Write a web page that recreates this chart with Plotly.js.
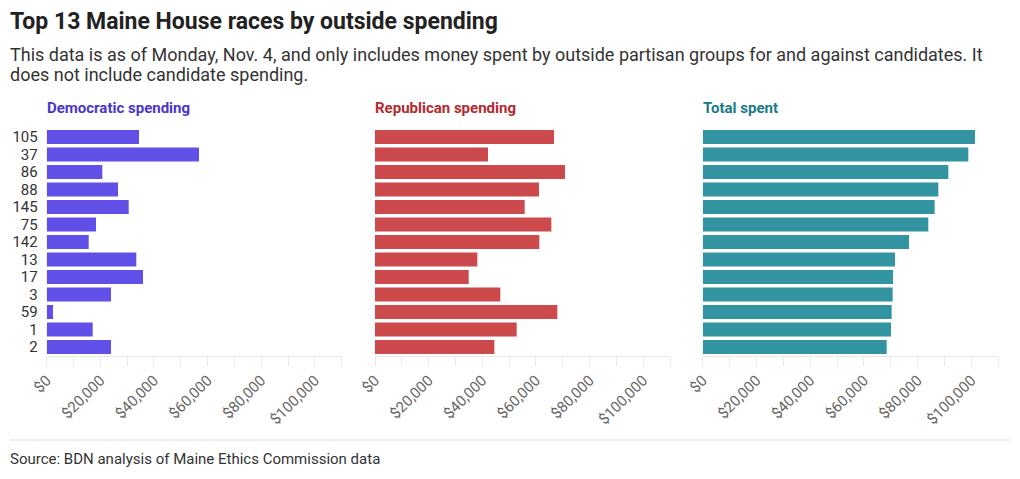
<!DOCTYPE html>
<html>
<head>
<meta charset="utf-8">
<script src="https://cdn.plot.ly/plotly-3.0.1.min.js"></script>
<style>
  html, body { margin: 0; padding: 0; background: #fff; }
  #chart { width: 1020px; height: 479px; }
</style>
</head>
<body>
<div id="chart"></div>
<script>
const districts = ["105", "37", "86", "88", "145", "75", "142", "13", "17", "3", "59", "1", "2"];
const democraticSpending = [34420, 56790, 20740, 26590, 30580, 18380, 15660, 33410, 35910, 23980, 2350, 17150, 23980];
const republicanSpending = [66750, 42140, 70850, 61150, 55810, 65750, 61280, 38160, 34930, 46730, 67990, 52830, 44500];
const totalSpent = [101320, 98840, 91400, 87680, 86310, 83960, 76760, 71560, 70810, 70690, 70320, 70070, 68460];
const panelTitles = ["Democratic spending", "Republican spending", "Total spent"];

const W = 1020, H = 479;
const font = "Roboto, 'Open Sans', sans-serif";
const barColors = ["#6150e8", "#cc4a4b", "#3194a0"];
const titleColors = ["#4b35cf", "#b8292f", "#1b7b85"];
const series = [democraticSpending, republicanSpending, totalSpent];
const xDomains = [[46.7 / W, 341.7 / W], [375 / W, 670 / W], [702.7 / W, 998.3 / W]];
const yDomain = [(H - 355.75) / H, (H - 128.25) / H];

const traces = series.map((vals, i) => ({
  type: "bar",
  orientation: "h",
  x: vals,
  y: districts,
  xaxis: i === 0 ? "x" : "x" + (i + 1),
  yaxis: i === 0 ? "y" : "y" + (i + 1),
  marker: { color: barColors[i], line: { width: 0 } },
  width: 0.8,
  hoverinfo: "x+y",
  showlegend: false
}));

function xAxis(i) {
  return {
    domain: xDomains[i],
    anchor: i === 0 ? "y" : "y" + (i + 1),
    range: [0, 110000],
    dtick: 20000,
    tick0: 0,
    tickprefix: "$",
    tickformat: ",d",
    tickangle: -45,
    ticks: "outside",
    ticklen: 9,
    tickwidth: 1,
    tickcolor: "#e8e8e8",
    minor: { dtick: 10000, tick0: 0, ticks: "outside", ticklen: 9, tickcolor: "#e8e8e8", tickwidth: 1 },
    showgrid: false,
    zeroline: false,
    showline: true,
    linecolor: "#e8e8e8",
    linewidth: 1,
    tickfont: { family: font, size: 15, color: "#666" },
    fixedrange: true
  };
}
function yAxis(i) {
  return {
    domain: yDomain,
    anchor: i === 0 ? "x" : "x" + (i + 1),
    type: "category",
    autorange: false,
    range: [12.5, -0.5],
    tickmode: "array",
    tickvals: districts,
    ticktext: districts,
    showticklabels: i === 0,
    ticks: "",
    ticklabelstandoff: 8,
    showgrid: false,
    zeroline: false,
    showline: false,
    tickfont: { family: font, size: 15, color: "#333" },
    fixedrange: true
  };
}

const annotations = [
  { text: "<b>Top 13 Maine House races by outside spending</b>", x: 8, y: 22, font: { family: font, size: 23, color: "#222" } },
  { text: "This data is as of Monday, Nov. 4, and only includes money spent by outside partisan groups for and against candidates. It", x: 8, y: 55, font: { family: font, size: 18, color: "#333" } },
  { text: "does not include candidate spending.", x: 8, y: 74, font: { family: font, size: 18, color: "#333" } },
  { text: "Source: BDN analysis of Maine Ethics Commission data", x: 8, y: 459, font: { family: font, size: 15, color: "#333" } }
];
panelTitles.forEach((t, i) => {
  annotations.push({ text: "<b>" + t + "</b>", x: xDomains[i][0] * W - 2, y: 108, font: { family: font, size: 15, color: titleColors[i] } });
});
annotations.forEach(a => {
  a.x = a.x / W; a.y = (H - a.y) / H;
  a.xref = "paper"; a.yref = "paper";
  a.xanchor = "left"; a.yanchor = "middle";
  a.showarrow = false; a.align = "left";
});

const layout = {
  width: W, height: H,
  margin: { l: 0, r: 0, t: 0, b: 0 },
  paper_bgcolor: "#fff",
  plot_bgcolor: "#fff",
  bargap: 0.2,
  xaxis: xAxis(0), xaxis2: xAxis(1), xaxis3: xAxis(2),
  yaxis: yAxis(0), yaxis2: yAxis(1), yaxis3: yAxis(2),
  annotations: annotations,
  shapes: [{ type: "line", xref: "paper", yref: "paper", x0: 10 / W, x1: 1010 / W, y0: (H - 440) / H, y1: (H - 440) / H, line: { color: "#dddddd", width: 1 } }]
};

Plotly.newPlot("chart", traces, layout, { displayModeBar: false, responsive: false });
</script>
</body>
</html>
